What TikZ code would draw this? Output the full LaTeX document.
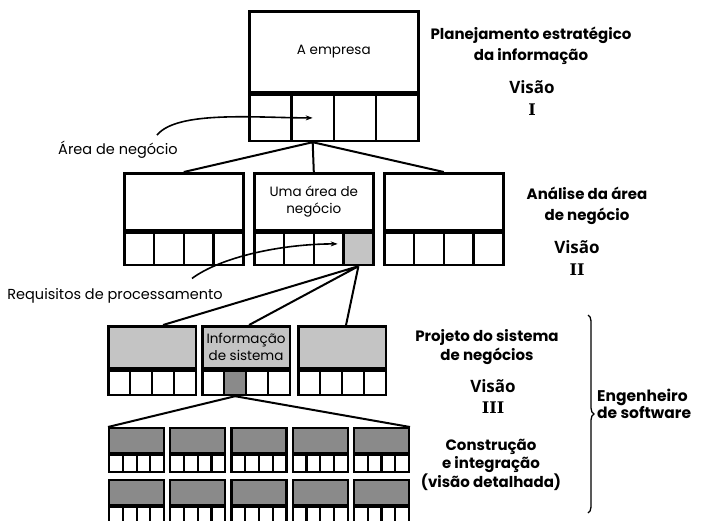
\documentclass[tikz,border=0pt]{standalone}
\usepackage{fontspec}
\setmainfont{Poppins}
\newfontfamily\visaofont{Open Sans}
\newfontfamily\romanofont{DejaVu Serif}
\usetikzlibrary{arrows.meta,decorations.pathreplacing}
\definecolor{cinzaclaro}{RGB}{196,196,196}
\definecolor{cinzaescuro}{RGB}{138,138,138}

\begin{document}
\begin{tikzpicture}[x=1pt, y=-1pt,
  bloco/.style={draw, line width=2.6pt, inner sep=0pt, anchor=north west, align=center,
    font=\fontsize{13.5}{17}\selectfont},
  cela/.style={draw, line width=2.6pt, inner sep=0pt, anchor=north west},
  liga/.style={line width=2pt},
  seta/.style={line width=1.6pt, -{Stealth[length=7pt,width=5pt]}},
  nota/.style={font=\fontsize{14.5}{17}\selectfont, inner sep=0pt},
  titulo/.style={font=\fontsize{15}{21}\selectfont\bfseries, align=center, inner sep=0pt},
  visao/.style={font=\fontsize{17}{20}\selectfont\visaofont\bfseries, inner sep=0pt},
  romano/.style={font=\fontsize{16}{20}\selectfont\romanofont\bfseries, inner sep=0pt},
  area-2-4/.style={fill=cinzaclaro},
  proj-2-2/.style={fill=cinzaescuro}]
\useasboundingbox (0,0) rectangle (702,520);

\node[bloco, minimum width=169pt, minimum height=81pt] (empresa) at (248,10) {A empresa};
\foreach \i in {1,...,4}
  \node[cela, minimum width=42.25pt, minimum height=46pt] (empresa-\i)
    at ([xshift={(\i-1)*42.25pt}]empresa.south west) {};

\foreach \n/\x/\txt in {1/123/{}, 2/253/{Uma área de\\negócio}, 3/383/{}} {
  \node[bloco, minimum width=119pt, minimum height=57pt] (area\n) at (\x,172) {\txt};
  \foreach \i in {1,...,4}
    \node[cela, area-\n-\i/.try, minimum width=29.75pt, minimum height=32pt] (area\n-\i)
      at ([xshift={(\i-1)*29.75pt}]area\n.south west) {};
}

\foreach \n/\x/\txt in {1/107/{}, 2/201/{Informação\\de sistema}, 3/297/{}} {
  \node[bloco, fill=cinzaclaro, minimum width=87.5pt, minimum height=42pt] (proj\n) at (\x,325) {\txt};
  \foreach \i in {1,...,4}
    \node[cela, proj-\n-\i/.try, minimum width=21.875pt, minimum height=24pt] (proj\n-\i)
      at ([xshift={(\i-1)*21.875pt}]proj\n.south west) {};
}

\foreach \r/\y in {1/427, 2/479}
  \foreach \j in {1,...,5} {
    \node[bloco, fill=cinzaescuro, line width=2.2pt, minimum width=55pt, minimum height=25pt]
      (mod\r\j) at ({108+(\j-1)*61.2},\y) {};
    \foreach \i in {1,...,4}
      \node[cela, line width=2.2pt, minimum width=13.75pt, minimum height=17pt] (mod\r\j-\i)
        at ([xshift={(\i-1)*13.75pt}]mod\r\j.south west) {};
  }

\draw[liga] (empresa-2.south) -- (area1.north)
            (empresa-2.south) -- (area2.north)
            (empresa-2.south) -- (area3.north);
\draw[liga] (area2-4.south) -- ([xshift=11pt]proj1.north)
            (area2-4.south) -- ([xshift=3pt]proj2.north)
            (area2-4.south) -- ([xshift=4pt]proj3.north);
\draw[liga] (proj2-2.south) -- (mod11.north west)
            (proj2-2.south) -- (mod15.north east);

\node[nota] (lblarea) at (118,150) {Área de negócio};
\draw[seta] ([xshift=39pt,yshift=6pt]lblarea.north) .. controls +(20,-25) and +(-55,0)
  .. (empresa-2.center);
\node[nota] (lblreq) at (115,296) {Requisitos de processamento};
\draw[seta] ([xshift=77pt,yshift=10pt]lblreq.north) .. controls +(30,-22) and +(-55,0)
  .. ([xshift=9pt,yshift=5pt]area2-3.center);

\node[titulo] (plan) at (531,46) {Planejamento estratégico\\da informação};
\node[visao] (visao1) at (532,87) {Visão};
\node[romano] (num1) at (532,110) {I};
\node[titulo] (analise) at (587,206) {Análise da área\\de negócio};
\node[visao] (visao2) at (577,247) {Visão};
\node[romano] (num2) at (577,270) {II};
\node[titulo, font=\fontsize{15}{19}\selectfont\bfseries] (projeto) at (487,347) {Projeto do sistema\\de negócios};
\node[visao] (visao3) at (493,386) {Visão};
\node[romano] (num3) at (493,408) {III};
\node[titulo, font=\fontsize{15}{17.5}\selectfont\bfseries] (constr) at (491,465)
  {Construção\\e integração\\(visão detalhada)};

\coordinate (chavetopo) at (588,315);
\coordinate (chavebase) at (588,513);
\draw[line width=1.3pt, decorate, decoration={brace, amplitude=6pt}] (chavetopo) -- (chavebase);
\node[titulo, font=\fontsize{15.5}{17}\selectfont\bfseries, align=left, anchor=west] (eng) at (597,404)
  {Engenheiro\\de software};
\end{tikzpicture}
\end{document}
